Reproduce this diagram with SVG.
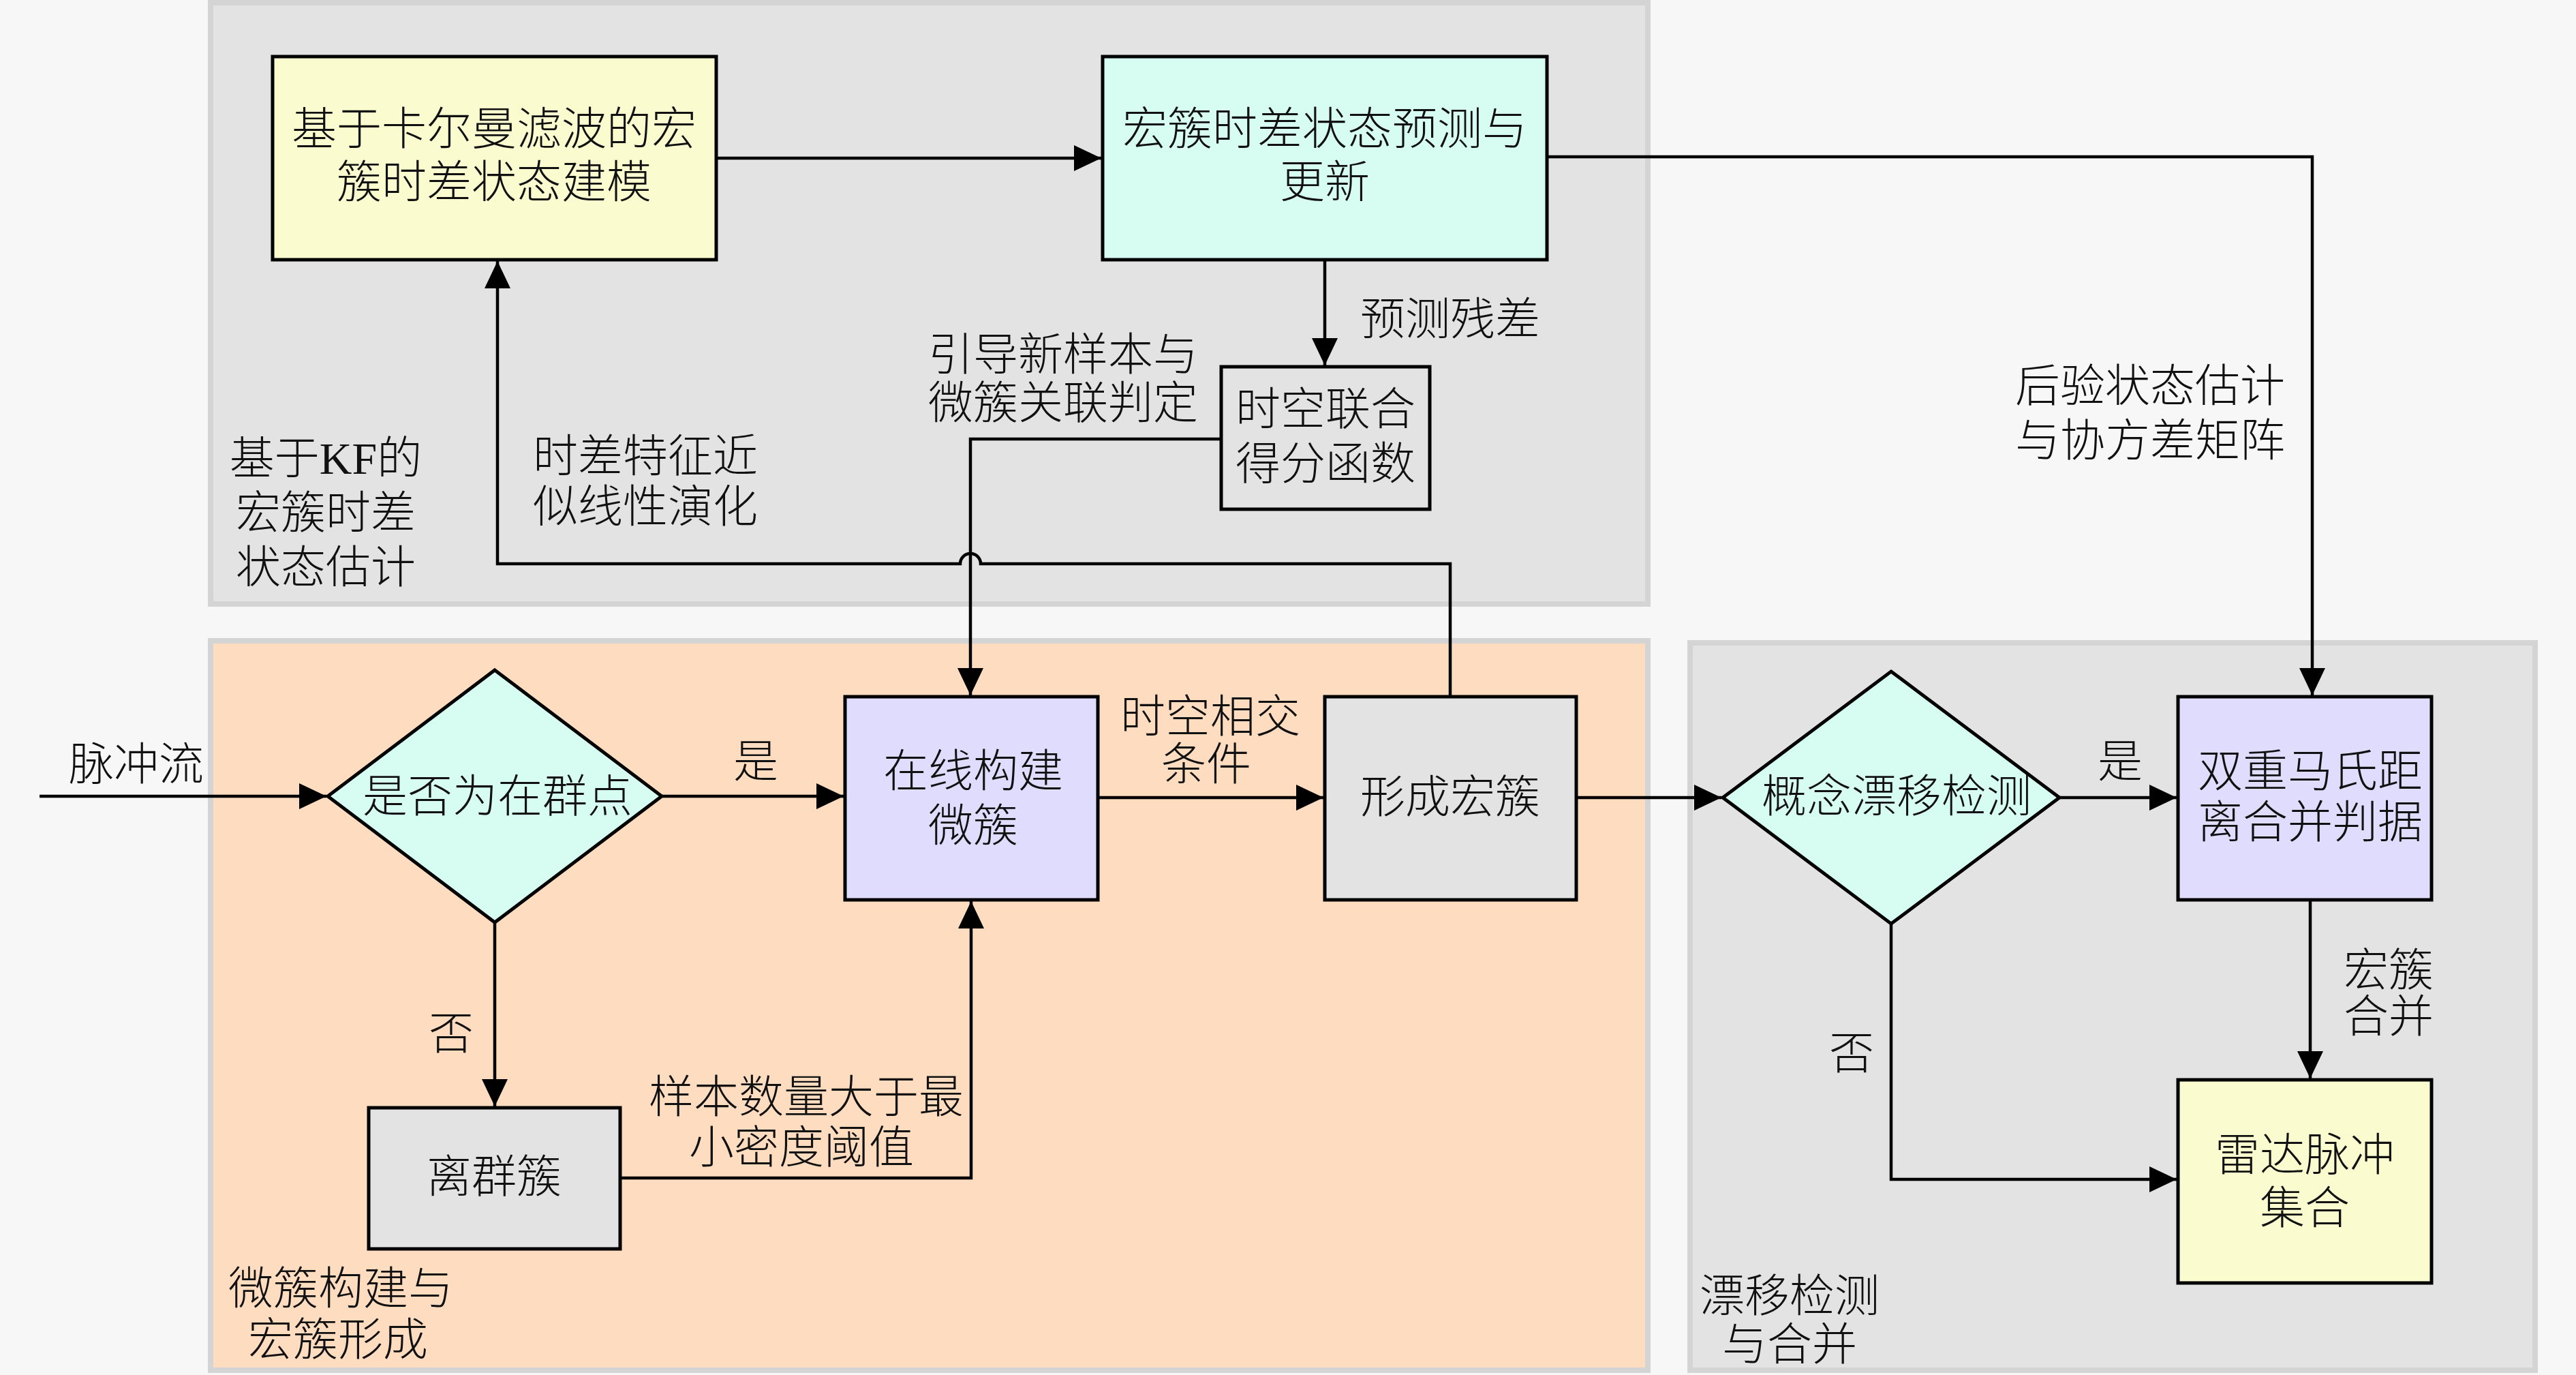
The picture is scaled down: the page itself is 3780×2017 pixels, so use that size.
<svg xmlns="http://www.w3.org/2000/svg" width="3780" height="2017" viewBox="0 0 3780 2017">
<defs>
<marker id="arr" markerUnits="userSpaceOnUse" markerWidth="42" markerHeight="40" refX="40" refY="20" orient="auto">
<path d="M0,1 L40,20 L0,39 z" fill="#000"/>
</marker>
<style>
text{font-family:"Liberation Serif","Noto Sans CJK SC",serif;font-size:66px;fill:#111;font-weight:300}
.c{text-anchor:middle;dominant-baseline:central}
.s{text-anchor:start;dominant-baseline:central}
.panel{stroke:#d4d4d4;stroke-width:8}
.box{stroke:#000;stroke-width:5}
.ln{fill:none;stroke:#000;stroke-width:4.5;stroke-linejoin:miter}
.a{marker-end:url(#arr)}
</style>
</defs>
<rect x="0" y="0" width="3780" height="2017" fill="#f7f7f7"/>

<g id="panel-kf">
<rect class="panel" x="309" y="4" width="2109" height="882" fill="#e3e3e3"/>
<text class="c" x="478" y="672">基于KF的</text>
<text class="c" x="478" y="752">宏簇时差</text>
<text class="c" x="478" y="832">状态估计</text>
</g>
<g id="panel-micro">
<rect class="panel" x="309" y="940" width="2109" height="1070" fill="#fedcc0"/>
<text class="c" x="500" y="1890">微簇构建与</text>
<text class="c" x="496" y="1965">宏簇形成</text>
</g>
<g id="panel-drift">
<rect class="panel" x="2480" y="943" width="1240" height="1067" fill="#e3e3e3"/>
<text class="c" x="2626" y="1901">漂移检测</text>
<text class="c" x="2626" y="1972">与合并</text>
</g>

<g id="connectors">
<path class="ln a" d="M1051,232 H1616"/>
<path class="ln a" d="M2270,230 H3393 V1020"/>
<path class="ln a" d="M1944,381 V536"/>
<path class="ln a" d="M1792,644 H1424 V1020"/>
<path class="ln a" d="M2128,1022 V827 H1439 A15,15 0 0 0 1409,827 H730 V383"/>
<path class="ln a" d="M58,1168 H479"/>
<path class="ln a" d="M971,1168 H1238"/>
<path class="ln a" d="M726,1353 V1623"/>
<path class="ln a" d="M910,1728 H1425 V1322"/>
<path class="ln a" d="M1611,1170 H1942"/>
<path class="ln a" d="M2313,1170 H2526"/>
<path class="ln a" d="M3022,1170 H3194"/>
<path class="ln a" d="M2775,1355 V1730 H3194"/>
<path class="ln a" d="M3390,1320 V1582"/>
<text class="s" x="1996" y="468">预测残差</text>
<text class="c" x="1560" y="520">引导新样本与</text>
<text class="c" x="1560" y="591">微簇关联判定</text>
<text class="c" x="947" y="669">时差特征近</text>
<text class="c" x="947" y="743">似线性演化</text>
<text class="c" x="3155" y="566">后验状态估计</text>
<text class="c" x="3155" y="646">与协方差矩阵</text>
<text class="c" x="200" y="1121">脉冲流</text>
<text class="c" x="1109" y="1117">是</text>
<text class="c" x="662" y="1516">否</text>
<text class="c" x="1183" y="1609">样本数量大于最</text>
<text class="c" x="1176" y="1683">小密度阈值</text>
<text class="c" x="1776" y="1051">时空相交</text>
<text class="c" x="1770" y="1121">条件</text>
<text class="c" x="3111" y="1117">是</text>
<text class="c" x="2717" y="1545">否</text>
<text class="c" x="3505" y="1423">宏簇</text>
<text class="c" x="3505" y="1491">合并</text>
</g>

<g id="node-kf-model">
<rect class="box" x="400" y="83" width="651" height="298" fill="#fafcd0"/>
<text class="c" x="725" y="189">基于卡尔曼滤波的宏</text>
<text class="c" x="725" y="267">簇时差状态建模</text>
</g>
<g id="node-predict">
<rect class="box" x="1618" y="83" width="652" height="298" fill="#d7fdf3"/>
<text class="c" x="1944" y="189">宏簇时差状态预测与</text>
<text class="c" x="1944" y="267">更新</text>
</g>
<g id="node-score">
<rect class="box" x="1792" y="538" width="306" height="209" fill="#e3e3e3"/>
<text class="c" x="1945" y="600">时空联合</text>
<text class="c" x="1945" y="680">得分函数</text>
</g>
<g id="node-inlier">
<polygon class="box" points="726,983 971,1168 726,1353 481,1168" fill="#d7fdf3"/>
<text class="c" x="730" y="1168">是否为在群点</text>
</g>
<g id="node-micro">
<rect class="box" x="1240" y="1022" width="371" height="298" fill="#dfdcfd"/>
<text class="c" x="1428" y="1131">在线构建</text>
<text class="c" x="1428" y="1211">微簇</text>
</g>
<g id="node-outlier">
<rect class="box" x="541" y="1625" width="369" height="207" fill="#e3e3e3"/>
<text class="c" x="725" y="1726">离群簇</text>
</g>
<g id="node-macro">
<rect class="box" x="1944" y="1022" width="369" height="298" fill="#e3e3e3"/>
<text class="c" x="2128" y="1169">形成宏簇</text>
</g>
<g id="node-drift">
<polygon class="box" points="2775,985 3022,1170 2775,1355 2528,1170" fill="#d7fdf3"/>
<text class="c" x="2783" y="1168">概念漂移检测</text>
</g>
<g id="node-mahal">
<rect class="box" x="3196" y="1022" width="372" height="298" fill="#dfdcfd"/>
<text class="c" x="3390" y="1131">双重马氏距</text>
<text class="c" x="3390" y="1206">离合并判据</text>
</g>
<g id="node-radar">
<rect class="box" x="3196" y="1584" width="372" height="298" fill="#fafcd0"/>
<text class="c" x="3382" y="1694">雷达脉冲</text>
<text class="c" x="3382" y="1772">集合</text>
</g>
</svg>
